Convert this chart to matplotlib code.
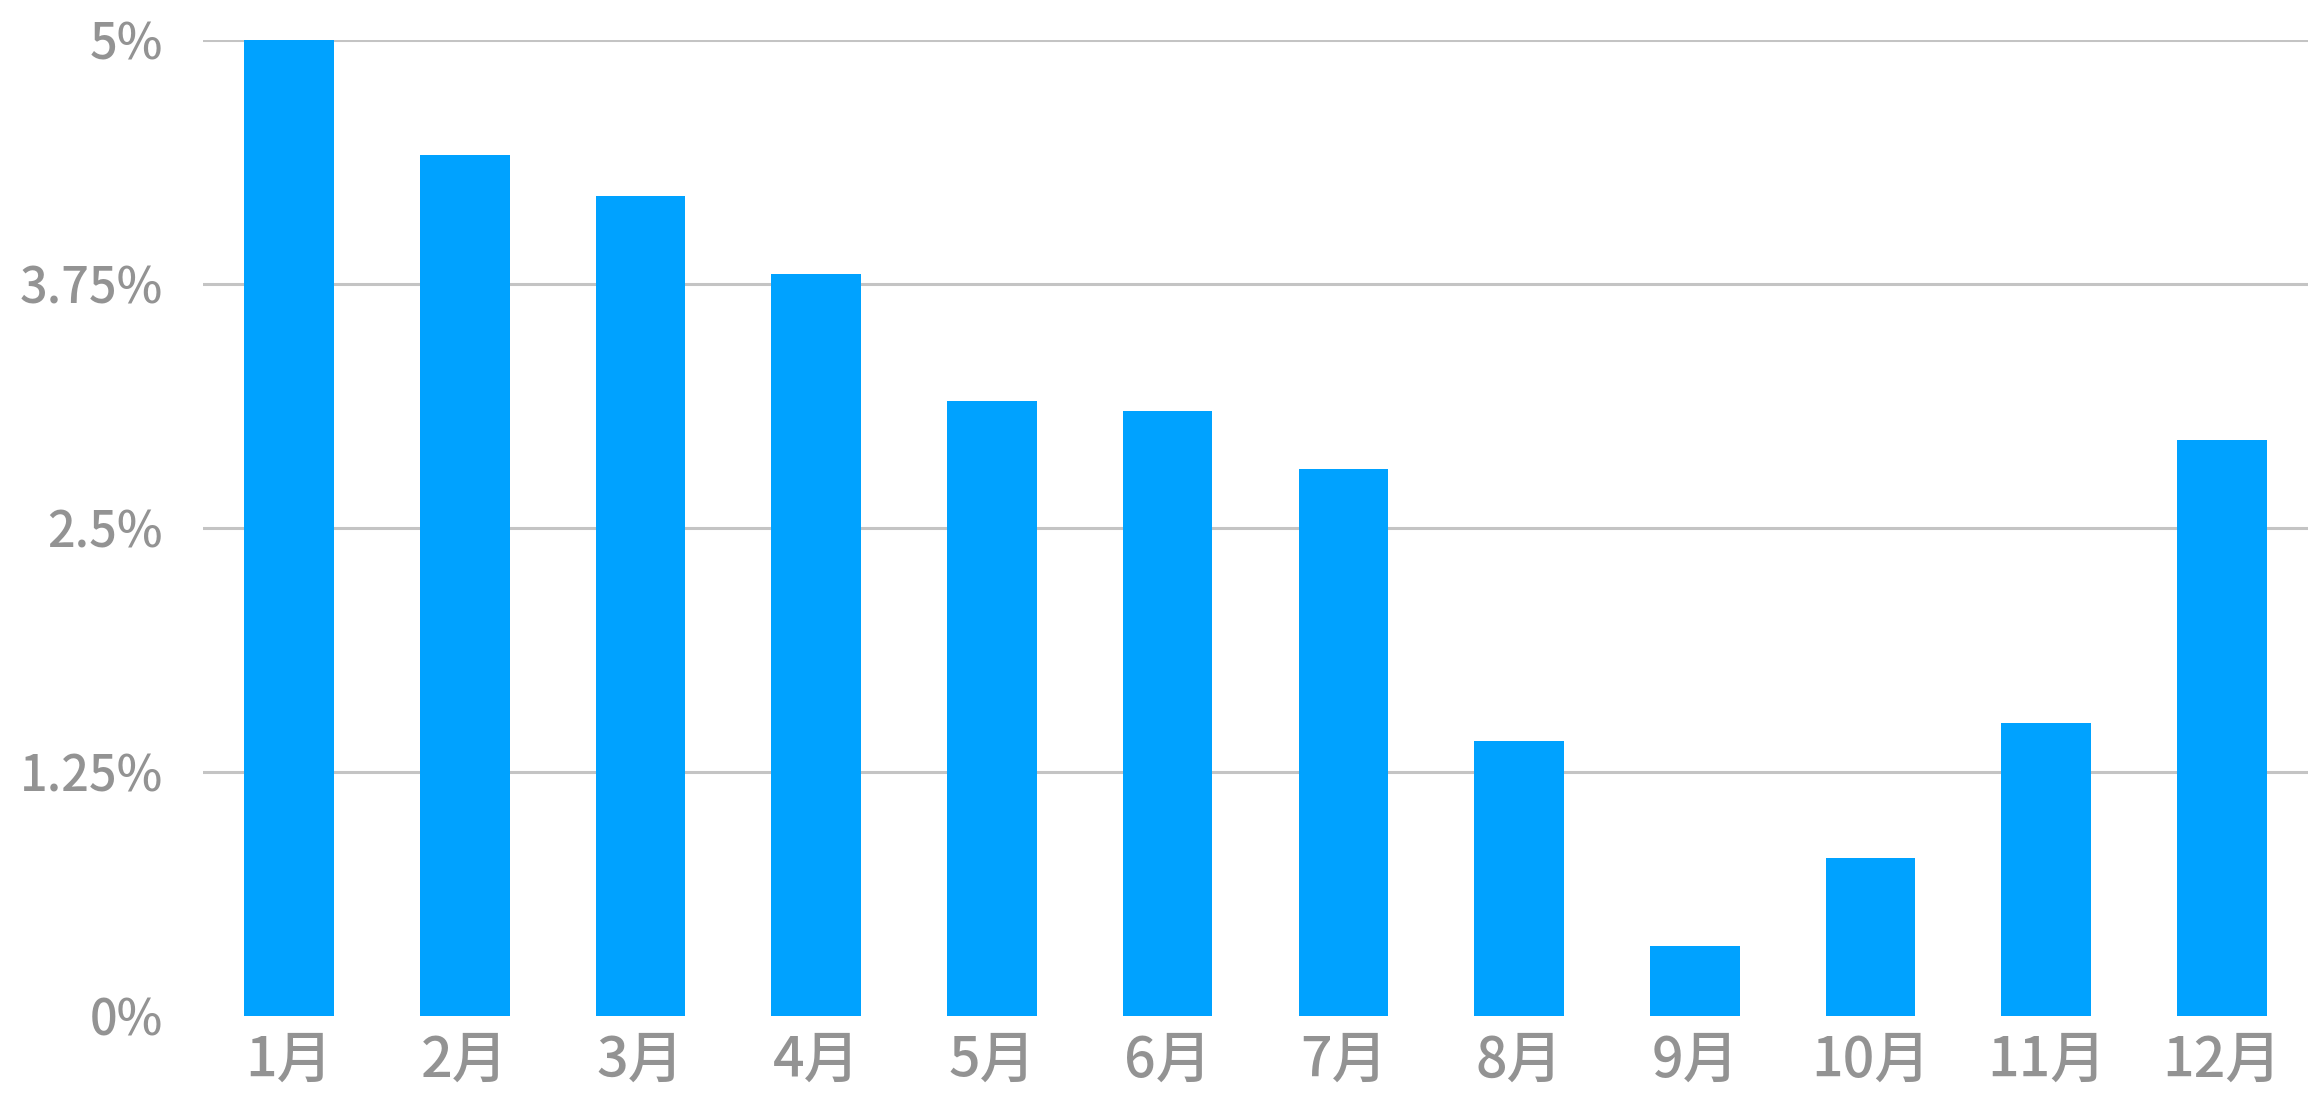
import matplotlib
matplotlib.use('agg')
import matplotlib.pyplot as plt

plt.rcParams['font.family'] = ['Noto Sans CJK JP', 'DejaVu Sans']

months = ["1月", "2月", "3月", "4月", "5月", "6月",
          "7月", "8月", "9月", "10月", "11月", "12月"]
rates = [5.0, 4.41, 4.20, 3.80, 3.15, 3.10, 2.80, 1.41, 0.36, 0.81, 1.50, 2.95]
yticks = [0, 1.25, 2.5, 3.75, 5]
ylabels = ["0%", "1.25%", "2.5%", "3.75%", "5%"]

fig = plt.figure(figsize=(23.09, 10.97), dpi=100)
ax = fig.add_axes([203/2309, 81/1097, 2105/2309, 976/1097])

x = range(len(months))
ax.bar(x, rates, width=0.51, color='#00a2ff', zorder=2)

ax.set_xlim(-0.49, 11.49)
ax.set_ylim(0, 5)
ax.set_yticks(yticks)
ax.set_yticklabels(ylabels, fontweight='medium')
ax.set_xticks(list(x))
ax.set_xticklabels(months, fontweight='medium')

ax.tick_params(axis='y', length=0, pad=29, labelsize=35, labelcolor='#939393')
ax.tick_params(axis='x', length=0, pad=12, labelsize=40, labelcolor='#939393')

ax.yaxis.grid(True, color='#c4c4c4', linewidth=2.2, zorder=1)
ax.set_axisbelow(True)
ax.get_ygridlines()[0].set_visible(False)
for s in ax.spines.values():
    s.set_visible(False)

fig.savefig("out.png", dpi=100)
